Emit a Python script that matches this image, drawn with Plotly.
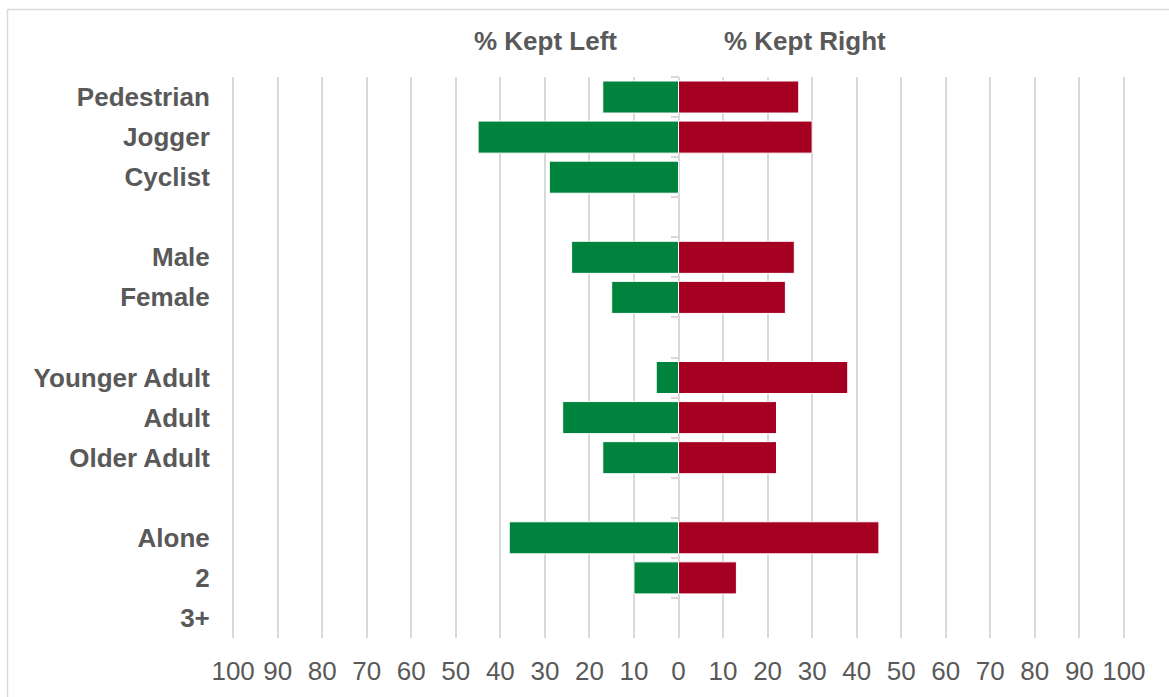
import plotly.graph_objects as go

# Survey groups, top to bottom; spacer rows separate the groups
groups = [
    ["Pedestrian", "Jogger", "Cyclist"],
    ["Male", "Female"],
    ["Younger Adult", "Adult", "Older Adult"],
    ["Alone", "2", "3+"],
]
kept_left = [
    [17, 45, 29],
    [24, 15],
    [5, 26, 17],
    [38, 10, None],
]
kept_right = [
    [27, 30, None],
    [26, 24],
    [38, 22, 22],
    [45, 13, None],
]
x_ticks = list(range(-100, 101, 10))

GREEN = "#00843D"
RED = "#A50021"
GRID = "#D9D9D9"
TEXT = "#595959"
FONT = "Liberation Sans, Arial, sans-serif"

# Flatten the groups, inserting blank spacer categories between them
cats, left_vals, right_vals = [], [], []
for i, (g, lv, rv) in enumerate(zip(groups, kept_left, kept_right)):
    if i > 0:
        cats.append(" " * i)
        left_vals.append(None)
        right_vals.append(None)
    cats.extend(g)
    left_vals.extend(lv)
    right_vals.extend(rv)

neg_left = [-v if v is not None else None for v in left_vals]
cat_range = [len(cats) - 0.5, -0.5]  # top-to-bottom order

fig = go.Figure()
fig.add_trace(go.Bar(
    y=cats, x=neg_left, orientation="h", name="% Kept Left",
    marker=dict(color=GREEN, line=dict(color="white", width=1)),
))
fig.add_trace(go.Bar(
    y=cats, x=right_vals, orientation="h", name="% Kept Right",
    marker=dict(color=RED, line=dict(color="white", width=1)),
))
# invisible helper so the centre axis knows the categories
fig.add_trace(go.Scatter(
    y=cats, x=[0] * len(cats), yaxis="y2", mode="markers",
    marker=dict(opacity=0), hoverinfo="skip", showlegend=False,
))

W, H = 1169, 697
L, R, T, B = 232, 44, 77, 59
pw, ph = W - L - R, H - T - B


def px_x(px):
    return (px - L) / pw


def px_y(py):
    return 1 - (py - T) / ph


fig.update_layout(
    width=W, height=H,
    margin=dict(l=L, r=R, t=T, b=B),
    barmode="relative",
    bargap=0.2,
    showlegend=False,
    plot_bgcolor="white",
    paper_bgcolor="white",
    font=dict(family=FONT, color=TEXT, size=26),
    xaxis=dict(
        range=[-100.25, 100.25],
        tickvals=x_ticks,
        ticktext=[str(abs(v)) for v in x_ticks],
        showgrid=True, gridcolor=GRID, gridwidth=1.5,
        zeroline=True, zerolinecolor=GRID, zerolinewidth=1.5,
        showline=False,
        ticks="outside", ticklen=10, tickcolor="rgba(0,0,0,0)",
        tickfont=dict(size=26, color=TEXT, family=FONT),
    ),
    yaxis=dict(
        type="category",
        categoryorder="array", categoryarray=cats,
        range=cat_range,
        showgrid=False, zeroline=False, showline=False,
        ticks="outside", ticklen=16, tickcolor="rgba(0,0,0,0)",
        tickfont=dict(size=26, color=TEXT, family=FONT, weight="bold"),
    ),
    yaxis2=dict(
        type="category",
        categoryorder="array", categoryarray=cats,
        range=cat_range,
        overlaying="y", anchor="free", position=0.5, side="left",
        showgrid=False, zeroline=False, showline=False,
        showticklabels=False,
        ticks="outside", tickson="boundaries", ticklen=8,
        tickcolor=GRID, tickwidth=2,
    ),
)

for label, cx in [("% Kept Left", 545), ("% Kept Right", 805)]:
    fig.add_annotation(
        text=label, xref="paper", yref="paper",
        x=px_x(cx), y=px_y(41), xanchor="center", yanchor="middle",
        showarrow=False,
        font=dict(size=26, color=TEXT, family=FONT, weight="bold"),
    )

# chart-area border
fig.add_shape(
    type="rect", xref="paper", yref="paper",
    x0=px_x(7.5), y0=px_y(H + 20), x1=px_x(W + 20), y1=px_y(9.5),
    line=dict(color=GRID, width=1.5), fillcolor="rgba(0,0,0,0)", layer="below",
)

fig.write_html("out.html")
